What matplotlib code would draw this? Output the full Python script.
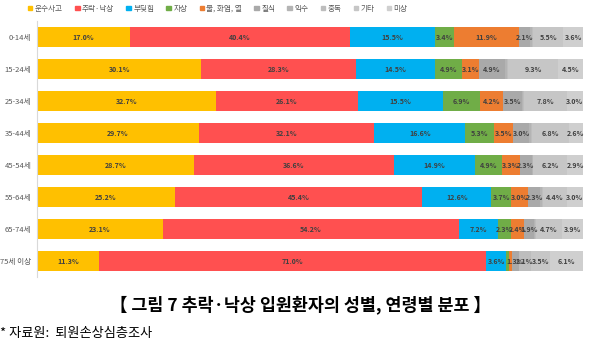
import matplotlib.pyplot as plt
from matplotlib.patches import Patch

plt.rcParams['font.family'] = ['Noto Sans CJK KR', 'DejaVu Sans']

ages = ["0-14세", "15-24세", "25-34세", "35-44세", "45-54세", "55-64세", "65-74세", "75세 이상"]
causes = ["운수사고", "추락·낙상", "부딪힘", "자상", "불, 화염, 열", "질식", "익수", "중독", "기타", "미상"]
colors = ["#FFC000", "#FF5050", "#00B0F0", "#70AD47", "#ED7D31",
          "#A9A9A9", "#B4B4B4", "#BDBDBD", "#C6C6C6", "#CFCFCF"]

# percent per age group, in cause order
values = [
    [17.0, 40.4, 15.5, 3.4, 11.9, 2.1, 0.3, 0.3, 5.5, 3.6],
    [30.1, 28.3, 14.5, 4.9, 3.1, 4.9, 0.2, 0.2, 9.3, 4.5],
    [32.7, 26.1, 15.5, 6.9, 4.2, 3.5, 0.2, 0.1, 7.8, 3.0],
    [29.7, 32.1, 16.6, 5.3, 3.5, 3.0, 0.2, 0.2, 6.8, 2.6],
    [28.7, 36.6, 14.9, 4.9, 3.3, 2.3, 0.1, 0.1, 6.2, 2.9],
    [25.2, 45.4, 12.6, 3.7, 3.0, 2.3, 0.2, 0.2, 4.4, 3.0],
    [23.1, 54.2, 7.2, 2.3, 2.4, 1.9, 0.1, 0.2, 4.7, 3.9],
    [11.3, 71.0, 3.6, 0.5, 0.6, 1.3, 0.0, 2.1, 3.5, 6.1],
]

fig = plt.figure(figsize=(6, 3.49), dpi=100)
ax = fig.add_axes([37/600, 72/349, 546/600, 256/349])

ypos = list(range(len(ages)))
for j, cause in enumerate(causes):
    lefts = [sum(row[:j]) for row in values]
    widths = [row[j] for row in values]
    ax.barh(ypos, widths, left=lefts, height=0.65, color=colors[j], label=cause)
    for i in ypos:
        if widths[i] >= 1.0:
            ax.text(lefts[i] + widths[i] / 2, i, f"{widths[i]:.1f}%", ha="center", va="center",
                    fontsize=5.1, fontweight="bold", color="#404040")

ax.set_xlim(0, 100)
ax.set_ylim(len(ages) - 0.5, -0.5)
ax.set_yticks(ypos)
ax.set_yticklabels(ages, fontsize=5.5, color="#595959")
ax.tick_params(axis="y", length=0, pad=4)
ax.set_xticks([])
for s in ["top", "right", "bottom"]:
    ax.spines[s].set_visible(False)
ax.spines["left"].set_color("#D9D9D9")
ax.spines["left"].set_linewidth(0.8)

handles = [Patch(color=c) for c in colors]
fig.legend(handles, causes, loc="center left", bbox_to_anchor=(0.035, 0.975), ncol=10,
           frameon=False, fontsize=5.5, labelcolor="#595959", handlelength=0.6, handleheight=0.6,
           handletextpad=0.3, columnspacing=1.6)

fig.text(0.5, 1 - 305/349, "【 그림 7 추락·낙상 입원환자의 성별, 연령별 분포 】", ha="center", va="center",
         fontsize=12.5, fontweight="bold", color="black")
fig.text(0.0, 1 - 333/349, "* 자료원:  퇴원손상심층조사", ha="left", va="center", fontsize=9.5, color="black")

fig.savefig("out.png", dpi=100)
